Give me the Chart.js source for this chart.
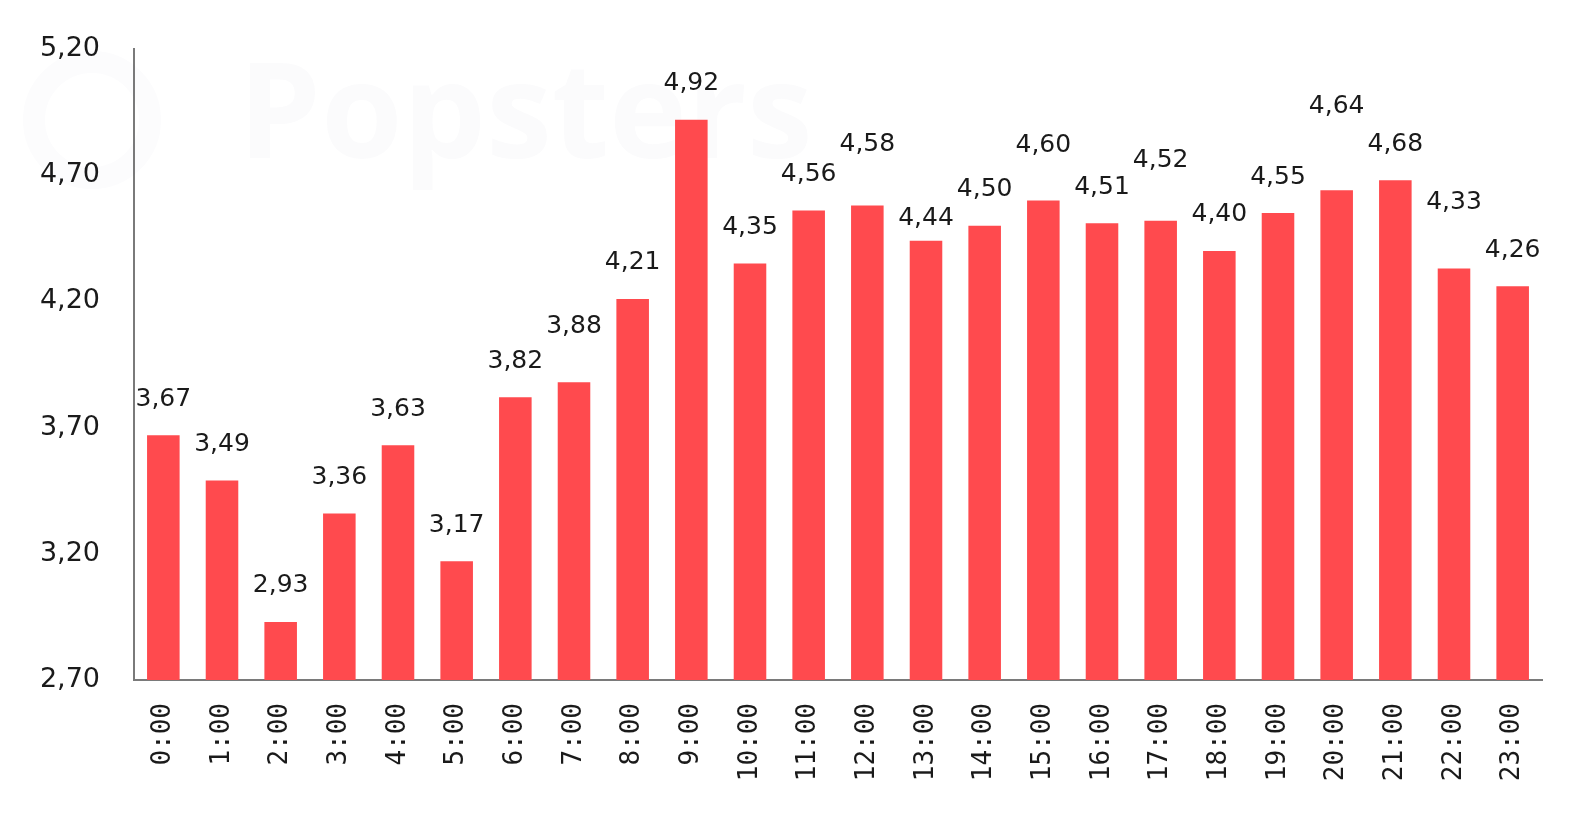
<!DOCTYPE html>
<html>
<head>
<meta charset="utf-8">
<script src="https://cdn.jsdelivr.net/npm/chart.js@4/dist/chart.umd.min.js"></script>
<style>
  html, body { margin: 0; padding: 0; background: #fff; }
  #wrap { width: 1579px; height: 814px; }
</style>
</head>
<body>
<div id="wrap"><canvas id="hoursChart"></canvas></div>
<script>
// Average by hour of day

const hours = ["0:00", "1:00", "2:00", "3:00", "4:00", "5:00", "6:00", "7:00", "8:00", "9:00", "10:00", "11:00",
	"12:00", "13:00", "14:00", "15:00", "16:00", "17:00", "18:00", "19:00", "20:00", "21:00", "22:00", "23:00"];
const hourValues = [3.67, 3.49, 2.93, 3.36, 3.63, 3.17, 3.82, 3.88, 4.21, 4.92, 4.35, 4.56,
	4.58, 4.44, 4.50, 4.60, 4.51, 4.52, 4.40, 4.55, 4.64, 4.68, 4.33, 4.26];
const yTicks = [2.70, 3.20, 3.70, 4.20, 4.70, 5.20];

// extra lift of some labels (excel moved them to avoid overlap)
const labelLift = [0, 0, 0, 0, 0, 0, 0, 20, 0, 0, 0, 0,
	25, -14, 0, 19, 0, 24, 0, 0, 48, 0, 30, 0];

const fmt = v => v.toFixed(2).replace(".", ",");

const valueLabels = {
	id: "valueLabels",
	beforeDatasetsDraw(chart) {
		// faint watermark
		const ctx = chart.ctx;
		ctx.save();
		ctx.font = "bold 132px 'Open Sans', sans-serif";
		ctx.fillStyle = "rgba(40, 60, 120, 0.02)";
		ctx.textBaseline = "middle";
		ctx.fillText("Popsters", 238, 120);
		ctx.beginPath();
		ctx.arc(92, 120, 58, 0, Math.PI * 2);
		ctx.lineWidth = 22;
		ctx.strokeStyle = "rgba(40, 60, 120, 0.016)";
		ctx.stroke();
		ctx.restore();
	},
	afterDatasetsDraw(chart) {
		const ctx = chart.ctx;
		const meta = chart.getDatasetMeta(0);
		ctx.save();
		ctx.font = "25px 'DejaVu Sans', sans-serif";
		ctx.fillStyle = "#1a1a1a";
		ctx.textAlign = "center";
		ctx.textBaseline = "middle";
		meta.data.forEach((bar, i) => {
			ctx.fillText(fmt(hourValues[i]), bar.x, bar.y - 36 - labelLift[i]);
		});
		ctx.restore();
	}
};

const hoursConfig = {
	type: "bar",
	data: {
		labels: hours,
		datasets: [
			{
				label: "Average",
				data: hourValues,
				backgroundColor: "#ff4a4e",
				borderWidth: 0,
				categoryPercentage: 1,
				barPercentage: 0.555,
			},
		],
	},
	options: {
		responsive: false,
		animation: false,
		layout: { padding: { top: 49, right: 37, left: 0, bottom: 0 } },
		plugins: {
			legend: { display: false },
			tooltip: { enabled: false },
		},
		scales: {
			x: {
				grid: { display: false },
				border: { display: true, color: "#7a7a7a", width: 2 },
				ticks: {
					color: "#1a1a1a",
					font: { family: "'DejaVu Sans Mono', monospace", size: 26 },
					minRotation: 90,
					maxRotation: 90,
					padding: 15,
					autoSkip: false,
				},
				afterFit: s => { s.height = 134; },
			},
			y: {
				min: 2.7,
				max: 5.2,
				grid: { display: false },
				border: { display: true, color: "#7a7a7a", width: 2 },
				afterBuildTicks: s => { s.ticks = yTicks.map(v => ({ value: v })); },
				ticks: {
					color: "#1a1a1a",
					font: { family: "'DejaVu Sans', sans-serif", size: 27 },
					padding: 26,
					callback: v => fmt(v),
				},
				afterFit: s => { s.width = 134; },
			},
		},
	},
	plugins: [valueLabels],
};

const canvas = document.getElementById("hoursChart");
canvas.width = 1579;
canvas.height = 814;
const HoursChart = new Chart(canvas, hoursConfig);
</script>
</body>
</html>
